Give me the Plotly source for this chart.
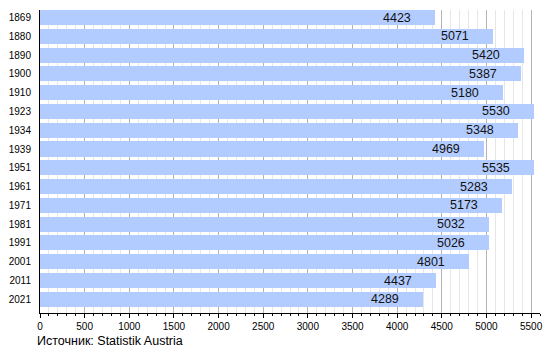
import plotly.graph_objects as go

years = ["1869", "1880", "1890", "1900", "1910", "1923", "1934", "1939",
         "1951", "1961", "1971", "1981", "1991", "2001", "2011", "2021"]
population = [4423, 5071, 5420, 5387, 5180, 5530, 5348, 4969,
              5535, 5283, 5173, 5032, 5026, 4801, 4437, 4289]
x_ticks = list(range(0, 5501, 500))
source_text = "Источник: Statistik Austria"

pos = list(range(len(years)))

fig = go.Figure()
fig.add_trace(go.Bar(
    x=population, y=pos, orientation="h",
    marker=dict(color="#b3ccff", line=dict(width=0)),
    width=0.8, hoverinfo="x+y",
))

for p, v in zip(pos, population):
    fig.add_annotation(x=v, y=p, text=str(v), showarrow=False,
                       xanchor="right", yanchor="middle", xshift=-22,
                       font=dict(family="Liberation Sans, Arial, sans-serif", size=12.5, color="#111111"))

fig.add_annotation(x=-0.01, y=-0.0924, xref="paper", yref="paper", text=source_text,
                   showarrow=False, xanchor="left", yanchor="middle",
                   font=dict(family="Liberation Sans, Arial, sans-serif", size=12.5, color="#000000"))

fig.update_layout(
    width=550, height=350,
    margin=dict(l=40, r=10, t=10, b=37, autoexpand=False),
    paper_bgcolor="white", plot_bgcolor="white",
    showlegend=False, bargap=0,
    font=dict(family="Liberation Sans, Arial, sans-serif", size=10, color="#000000"),
    xaxis=dict(
        range=[0, 5600], tickvals=x_ticks, ticktext=[str(t) for t in x_ticks],
        showgrid=True, gridcolor="#b3b3b3", gridwidth=1,
        showline=True, linecolor="black", linewidth=1,
        ticks="outside", ticklen=4, tickcolor="black", tickwidth=1,
        tickfont=dict(size=10), zeroline=False, fixedrange=True,
        minor=dict(dtick=100, tick0=0, showgrid=True, gridcolor="#e6e6e6",
                   ticks="outside", ticklen=2, tickcolor="black"),
    ),
    yaxis=dict(
        range=[15.73, -0.4], tickvals=pos, ticktext=years,
        showgrid=False, showline=True, linecolor="black", linewidth=1,
        ticks="", tickfont=dict(size=10), ticklabelstandoff=6,
        zeroline=False, fixedrange=True,
    ),
)

fig.write_html("out.html")
